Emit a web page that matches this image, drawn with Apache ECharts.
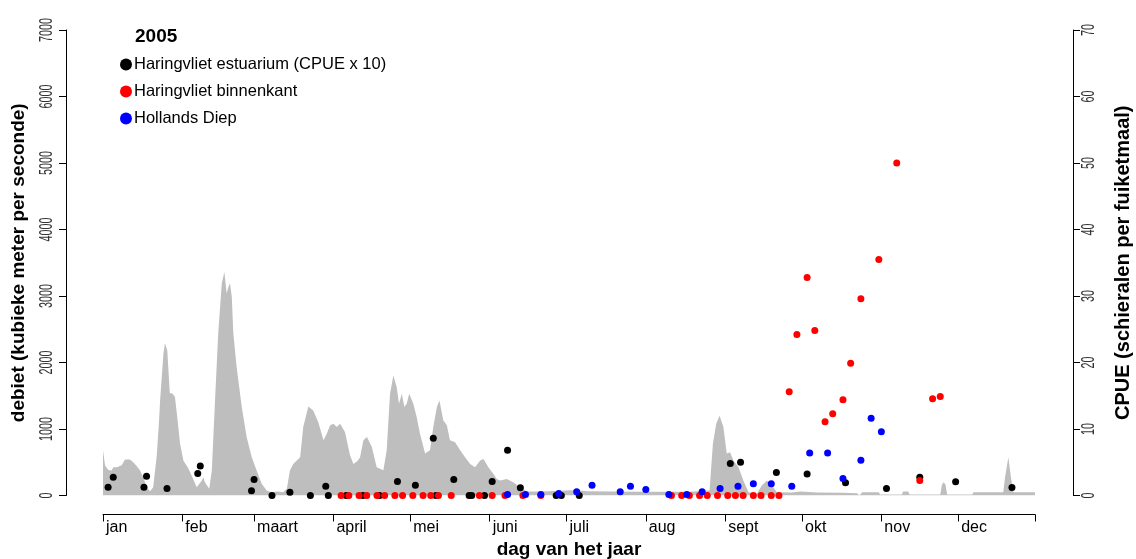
<!DOCTYPE html>
<html><head><meta charset="utf-8">
<script src="https://cdn.jsdelivr.net/npm/echarts@6/dist/echarts.min.js"></script>
<style>html,body{margin:0;padding:0;background:#fff}#c{width:1136px;height:559px}</style>
</head><body><div id="c"></div>
<script>
// x axis: day of year, month starts and labels
const monthStarts = [1, 32, 60, 91, 121, 152, 182, 213, 244, 274, 305, 335];
const monthLabels = ['jan', 'feb', 'maart', 'april', 'mei', 'juni', 'juli', 'aug', 'sept', 'okt', 'nov', 'dec'];
const yearEnd = 365;

// y axis tick labels
const debietTicks = [0, 1000, 2000, 3000, 4000, 5000, 6000, 7000];
const cpueTicks = [0, 10, 20, 30, 40, 50, 60, 70];

// discharge (m3/s) read from the grey area
const dischargeDay = [1,1.8,3.1,4.4,5,6.4,8.3,9.6,11.5,12.8,14.2,15.5,16.7,18.1,19.4,20.6,22,22.9,23.3,24.6,25.2,26.1,27.1,28.2,29.1,30,31.1,32.4,34.3,36.3,37.6,38.2,39.6,40.2,40.8,41.5,42.5,43.5,44.75,46,47.4,48.4,49.3,50,50.6,51.3,51.9,53.2,55.2,57.1,59.1,61,63,64.9,66.9,68.9,71.4,72.8,74,75.3,76.7,78,79.2,81.2,83.1,85.1,87.1,88.4,89.7,91,92.3,93.6,95.5,97.5,98.8,100.4,101.4,102.7,104.1,106,107.9,110.5,111.8,113.1,114.4,115.7,116.6,117.7,118.7,119.6,120.6,122.2,123.5,124.8,126.8,128.7,130,131.4,132.4,133.9,135.3,136.5,138.5,140.5,142.4,144.4,146.3,148.3,149.6,151.5,153.5,154.8,156.1,158.7,161.2,163.9,166.5,170,175,180,183.4,187.3,190,200,210,220,230,237.9,239.2,240.5,241.8,243.3,244.6,245.9,247.2,249.2,251.1,253.1,256.4,258.3,260.3,262.2,264.2,270,273.3,280,290,295.5,296.5,297.5,304,304.5,313,313.5,315.5,316,328,328.6,329.2,330,330.7,340.5,341,352.6,353.3,354.6,355.6,356.5,365];
const dischargeValue = [680,450,385,375,425,425,455,540,540,500,440,375,275,120,65,125,600,1130,1430,2130,2290,2180,1540,1530,1480,1180,780,525,410,240,125,100,225,275,200,180,100,375,1430,2440,3190,3360,3040,3135,3190,2985,2440,1930,1330,880,575,375,175,75,50,60,50,100,375,475,525,575,1030,1340,1280,1100,830,930,1055,1080,1030,1080,955,600,475,520,575,830,880,730,425,380,680,1530,1805,1630,1380,1530,1330,1380,1530,1380,1180,930,630,680,1030,1330,1430,1130,1055,830,800,680,575,475,425,525,550,425,325,250,225,250,200,125,60,60,65,70,80,75,65,60,55,55,55,75,780,1080,1200,1030,630,650,525,425,225,50,30,150,225,150,50,45,60,45,40,35,5,50,50,15,15,60,60,15,15,150,200,170,15,15,50,50,275,575,275,50,50];

// Haringvliet estuarium, CPUE x 10 (right axis)
const estuariumDay = [3,5,17,18,26,38,39,59,60,67,74,82,88,89,96,102.5,109,116,123,130,131,138,144,145,150,153,159,164,178,180,187,246,250,264,276,291,307,320,334,356];
const estuariumCpueX10 = [1.25,2.75,1.25,2.9,1.05,3.3,4.45,0.7,2.4,0,0.5,0,1.4,0,0,0,0,2.1,1.55,8.6,0,2.4,0,0,0,2.1,6.8,1.15,0,0,0,4.8,5.0,3.45,3.25,1.9,1.05,2.75,2.05,1.2];

// Haringvliet binnenkant, CPUE
const binnenkantDay = [94,97,101,104,108,111,115,118,122,126,129,132,137,148,153,158,165,172,223,227,230,234,237,241,245,248,251,255,258,262,265,269,272,276,279,283,286,290,293,297,304,311,320,325,328];
const binnenkantCpue = [0,0,0,0,0,0,0,0,0,0,0,0,0,0,0,0,0,0,0,0,0,0,0,0,0,0,0,0,0,0,0,15.6,24.2,32.8,24.8,11.1,12.3,14.4,19.9,29.6,35.5,50.0,2.25,14.55,14.9];

// Hollands Diep, CPUE
const hollandsDiepDay = [159,166,172,179,186,192,203,207,213,222,229,235,242,249,255,262,270,277,284,290,297,301,305];
const hollandsDiepCpue = [0.15,0.15,0.15,0.3,0.55,1.55,0.55,1.4,0.9,0.15,0.15,0.55,1.05,1.4,1.75,1.75,1.4,6.4,6.4,2.55,5.3,11.6,9.6];

const seriesNames = ['Haringvliet estuarium (CPUE x 10)', 'Haringvliet binnenkant', 'Hollands Diep'];
const yearLabel = '2005';

function zip(a, b) { return a.map((v, i) => [v, b[i]]); }

const FONT = '"Liberation Sans", Arial, sans-serif';

const chart = echarts.init(document.getElementById('c'), null, {renderer: 'canvas'});
chart.setOption({
  animation: false,
  backgroundColor: '#fff',
  textStyle: {fontFamily: FONT},
  title: {
    text: yearLabel, left: 135, top: 27, padding: 0,
    textStyle: {fontSize: 19, fontWeight: 'bold', color: '#000', fontFamily: FONT}
  },
  legend: {
    orient: 'vertical', left: 120, top: 56, padding: 0,
    itemWidth: 12, itemHeight: 12, itemGap: 10, icon: 'circle',
    textStyle: {fontSize: 16.5, color: '#000', lineHeight: 16, fontFamily: FONT, padding: [0, 0, 0, -3]},
    data: seriesNames
  },
  grid: {left: 103, right: 101, top: 30, bottom: 63.5, containLabel: false, outerBoundsMode: 'none'},
  xAxis: {
    type: 'value', min: 1, max: yearEnd, offset: 19,
    name: 'dag van het jaar', nameLocation: 'middle', nameGap: 26, nameMoveOverlap: false,
    nameTextStyle: {fontSize: 19, fontWeight: 'bold', color: '#000', fontFamily: FONT},
    axisLine: {show: true, onZero: false, lineStyle: {color: '#000', width: 1}},
    axisTick: {show: true, length: 7, customValues: monthStarts.concat([yearEnd]), lineStyle: {color: '#000'}},
    axisLabel: {
      customValues: monthStarts,
      formatter: function (v) { const i = monthStarts.indexOf(v); return i >= 0 ? monthLabels[i] : ''; },
      align: 'left', padding: [0, 0, 0, 3], margin: 5, fontSize: 16, color: '#000', fontFamily: FONT
    },
    splitLine: {show: false}
  },
  yAxis: [{
    type: 'value', min: 0, max: 7000, interval: 1000, position: 'left', offset: 37,
    name: 'debiet (kubieke meter per seconde)', nameLocation: 'middle', nameRotate: 90, nameGap: 38, nameMoveOverlap: false,
    nameTextStyle: {fontSize: 19, fontWeight: 'bold', color: '#000', fontFamily: FONT},
    axisLine: {show: true, onZero: false, lineStyle: {color: '#000'}},
    axisTick: {show: true, length: 7, lineStyle: {color: '#000'}},
    axisLabel: {show: false},
    splitLine: {show: false}
  }, {
    type: 'value', min: 0, max: 70, interval: 10, position: 'right', offset: 38,
    name: 'CPUE (schieralen per fuiketmaal)', nameLocation: 'middle', nameRotate: 90, nameGap: 40, nameMoveOverlap: false,
    nameTextStyle: {fontSize: 20, fontWeight: 'bold', color: '#000', fontFamily: FONT},
    axisLine: {show: true, onZero: false, lineStyle: {color: '#000'}},
    axisTick: {show: true, length: 7, lineStyle: {color: '#000'}},
    axisLabel: {show: false},
    splitLine: {show: false}
  }],
  series: [{
    type: 'line', name: 'debiet', yAxisIndex: 0, data: zip(dischargeDay, dischargeValue),
    symbol: 'none', showSymbol: false, silent: true,
    lineStyle: {width: 0, color: '#bebebe'}, areaStyle: {color: '#bebebe', opacity: 1}, z: 1
  }, {
    type: 'scatter', name: seriesNames[0], yAxisIndex: 1, data: zip(estuariumDay, estuariumCpueX10),
    symbol: 'circle', symbolSize: 7, itemStyle: {color: '#000', opacity: 1}, z: 2
  }, {
    type: 'scatter', name: seriesNames[1], yAxisIndex: 1, data: zip(binnenkantDay, binnenkantCpue),
    symbol: 'circle', symbolSize: 7, itemStyle: {color: '#ff0000', opacity: 1}, z: 3
  }, {
    type: 'scatter', name: seriesNames[2], yAxisIndex: 1, data: zip(hollandsDiepDay, hollandsDiepCpue),
    symbol: 'circle', symbolSize: 7, itemStyle: {color: '#0000ff', opacity: 1}, z: 4
  }]
});

// Condensed, rotated tick labels placed through the axes' own scales
const tickText = [];
function addTicks(ticks, axisIndex, x) {
  ticks.forEach(function (v) {
    const y = chart.convertToPixel({yAxisIndex: axisIndex}, v);
    tickText.push({
      type: 'text', x: x, y: y, rotation: Math.PI / 2, scaleX: 0.6, silent: true,
      style: {text: String(v), fontSize: 18, fontFamily: FONT, fill: '#333', align: 'center', verticalAlign: 'middle'}
    });
  });
}
addTicks(debietTicks, 0, 47);
addTicks(cpueTicks, 1, 1089);
chart.setOption({graphic: tickText});
</script>
</body></html>
